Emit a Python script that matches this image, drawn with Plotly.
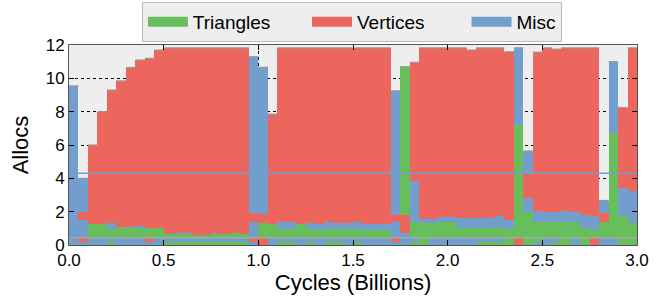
import numpy as np
import plotly.graph_objects as go

# ---- data -------------------------------------------------------------
bin_width = 0.05                      # Billion cycles per bin
n_bins = 60
categories = {"T": "Triangles", "V": "Vertices", "M": "Misc"}
colors = {"T": "#67BF5C", "V": "#ED665D", "M": "#729ECE"}

# layer colour codes per bin (bottom -> top)
col1 = "MMMMTMMMMMTTTTTTTTTMVMTTMTMTTMTMMMMMTTMMMMMTTTTVTMMTTMTVMMTT"
col2 = "MVMMMMMMVMMMMMMMMMMVVMMMMMMMMMMMMMVMMTMMMMMMMMTVTTMMTMTVMMTT"
col3 = "MMTTTTTTTTTTTTTTTTTMTTTTTTTTTTTTTTMMTTTTTTTTTTTTTTTTTTTTTTTT"
col4 = "MVVVMVMMVVVMMVVMVVVVVVMMVMMMMMMMMMVVMMMMMMMMMMMTMMMMMMMMVTMM"
col5 = "MVVVVVVVVVVVVVVVVVVVVVVVVVVVVVVVVVVVVVVVVVVVVVVTVVVVVVVVVTVV"
col6 = "MMVVVVVVVVVVVVVVVVVMMVVVVVVVVVVVVVMTVVVVVVVVVVVMMVVVVVVVMMVV"

# cumulative top of each layer (Allocs)
top1 = [0.18] * 60
top2 = [0.43] * 60
top3 = [1.00, 1.50, 1.25, 1.25, 0.98, 1.10, 1.00, 1.00, 1.03, 1.03,
        0.68, 0.65, 0.65, 0.62, 0.62, 0.65, 0.66, 0.70, 0.68, 1.40,
        1.30, 1.27, 0.95, 0.95, 1.24, 0.95, 0.93, 0.95, 0.95, 0.95,
        0.95, 0.92, 0.92, 0.92, 1.40, 0.73, 1.37, 1.35, 1.35, 1.40,
        1.40, 1.00, 1.00, 1.00, 1.00, 1.00, 0.95, 1.00, 2.00, 1.37,
        1.37, 1.37, 1.37, 1.37, 1.00, 0.93, 1.40, 1.00, 1.75, 1.30]
top4 = [2.00, 2.00, 1.25, 1.25, 1.34, 1.10, 1.10, 1.12, 1.03, 1.03,
        0.68, 0.72, 0.72, 0.62, 0.62, 0.72, 0.66, 0.70, 0.68, 1.95,
        1.85, 1.27, 1.40, 1.38, 1.24, 1.30, 1.25, 1.40, 1.32, 1.32,
        1.38, 1.25, 1.25, 1.25, 1.83, 1.83, 3.83, 1.55, 1.55, 1.70,
        1.70, 1.60, 1.60, 1.60, 1.60, 1.75, 1.50, 7.18, 2.80, 2.05,
        2.00, 2.00, 2.02, 2.00, 1.80, 1.75, 1.90, 6.74, 3.40, 3.27]
top5 = list(top4)
top5[48] = 4.30
totals = [9.55, 4.00, 6.00, 8.00, 9.30, 9.85, 10.65, 11.10, 11.20, 11.70,
          11.83, 11.83, 11.83, 11.83, 11.83, 11.83, 11.83, 11.83, 11.83, 11.30,
          10.66, 7.85, 11.83, 11.83, 11.83, 11.83, 11.83, 11.83, 11.83, 11.83,
          11.83, 11.83, 11.83, 11.83, 9.25, 10.70, 10.96, 11.83, 11.83, 11.83,
          11.83, 11.83, 11.70, 11.83, 11.83, 11.83, 11.60, 11.83, 5.64, 11.57,
          11.83, 11.75, 11.83, 11.83, 11.83, 11.83, 2.67, 11.00, 8.25, 11.83]
ref_band = 0.43      # grey line
mean_allocs = 4.3    # blue line

x_ticks = [0.0, 0.5, 1.0, 1.5, 2.0, 2.5, 3.0]
y_ticks = [0, 2, 4, 6, 8, 10, 12]

# ---- figure -----------------------------------------------------------
x = np.arange(n_bins) * bin_width + bin_width / 2
fig = go.Figure()

layers = [(totals, col6), (top5, col5), (top4, col4),
          (top3, col3), (top2, col2), (top1, col1)]
for tops, codes in layers:
    fig.add_trace(go.Bar(
        x=x, y=tops, width=bin_width * 1.001,
        marker=dict(color=[colors[c] for c in codes[:n_bins]], line=dict(width=0)),
        showlegend=False, hoverinfo="skip"))

# grey top edges
ex, ey = [], []
for i, t in enumerate(totals):
    ex += [i * bin_width, (i + 1) * bin_width, None]
    ey += [t, t, None]
fig.add_trace(go.Scatter(x=ex, y=ey, mode="lines",
                         line=dict(color="#9a9a9a", width=1.2),
                         showlegend=False, hoverinfo="skip"))
fig.add_trace(go.Scatter(x=[0, n_bins * bin_width], y=[ref_band] * 2, mode="lines",
                         line=dict(color="#aaaaaa", width=1.2),
                         showlegend=False, hoverinfo="skip"))
fig.add_trace(go.Scatter(x=[0, n_bins * bin_width], y=[mean_allocs] * 2, mode="lines",
                         line=dict(color="#729ECE", width=1.5),
                         showlegend=False, hoverinfo="skip"))

pad = {"T": 6, "V": 7, "M": 0}
for code in ["T", "V", "M"]:
    fig.add_trace(go.Scatter(x=[None], y=[None], mode="lines",
                             line=dict(color=colors[code], width=14),
                             name=categories[code] + "\u00a0" * pad[code]))

font = "Liberation Sans, Arial, sans-serif"
fig.update_layout(
    width=662, height=302,
    margin=dict(l=69, r=25, t=45, b=57, autoexpand=False),
    paper_bgcolor="white", plot_bgcolor="#eeeeee",
    barmode="overlay", bargap=0,
    font=dict(family=font, size=17, color="black"),
    legend=dict(orientation="h", x=0.498, xanchor="center", y=1.215, yanchor="top",
                bgcolor="#eeeeee", bordercolor="#bbbbbb", borderwidth=1,
                itemwidth=40, font=dict(size=19)),
)
fig.update_xaxes(range=[0, 3.0], tickvals=x_ticks, ticktext=[f"{v:.1f}" for v in x_ticks],
                 title=dict(text="Cycles (Billions)", font=dict(size=22), standoff=3),
                 showgrid=True, gridcolor="black", griddash="dot", gridwidth=1,
                 ticks="inside", ticklen=5, tickcolor="black", mirror="ticks",
                 showline=True, linecolor="#555555", linewidth=1,
                 zeroline=False, layer="above traces")
fig.update_yaxes(range=[0, 12], tickvals=y_ticks,
                 title=dict(text="Allocs", font=dict(size=22), standoff=10),
                 showgrid=True, gridcolor="black", griddash="dot", gridwidth=1,
                 ticks="inside", ticklen=5, tickcolor="black", mirror="ticks",
                 showline=True, linecolor="#555555", linewidth=1,
                 zeroline=False, layer="above traces")

fig.write_html("out.html", config={"displayModeBar": False},
               post_script="document.body.style.margin='0';")
